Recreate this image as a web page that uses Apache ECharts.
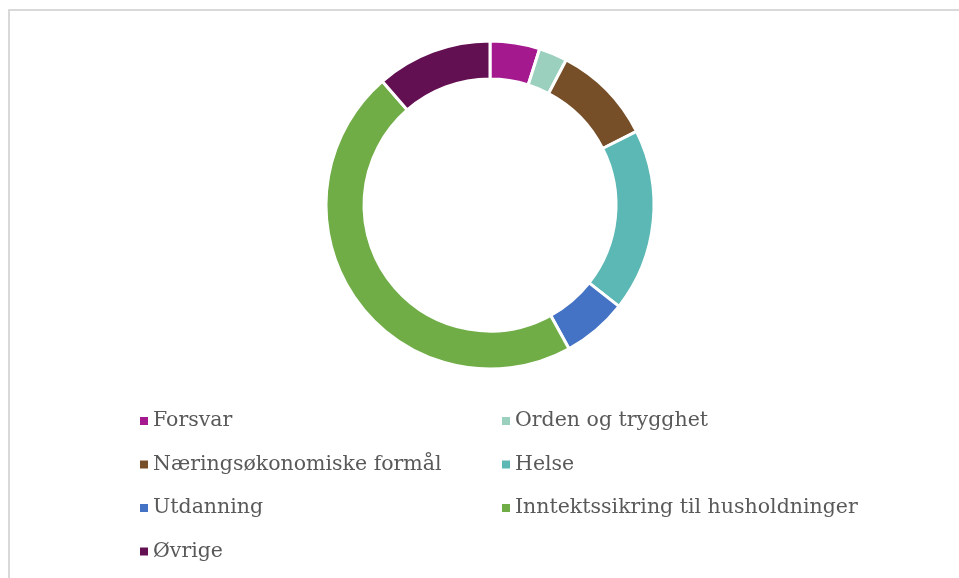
<!DOCTYPE html>
<html>
<head>
<meta charset="utf-8">
<script src="https://cdn.jsdelivr.net/npm/echarts@6/dist/echarts.min.js"></script>
<style>
  html, body { margin: 0; padding: 0; background: #fff; }
  #main { width: 959px; height: 578px; }
</style>
</head>
<body>
<div id="main"></div>
<script>
// kategorier og andeler (prosent)
var categories = ["Forsvar", "Orden og trygghet", "Næringsøkonomiske formål", "Helse", "Utdanning", "Inntektssikring til husholdninger", "Øvrige"];
var shares = [4.9, 2.8, 9.9, 18.0, 6.4, 46.6, 11.4];
var colors = ["#a5198f", "#9bd0be", "#764f28", "#5cb8b4", "#4472c4", "#70ad47", "#631052"];

// legend i to kolonner
var leftColumn = ["Forsvar", "Næringsøkonomiske formål", "Utdanning", "Øvrige"];
var rightColumn = ["Orden og trygghet", "Helse", "Inntektssikring til husholdninger"];

var chart = echarts.init(document.getElementById("main"));

var legendBase = {
  orient: "vertical",
  top: 409,
  padding: 0,
  itemWidth: 8,
  itemHeight: 8,
  itemGap: 19.5,
  icon: "rect",
  itemStyle: { borderWidth: 0 },
  textStyle: {
    fontFamily: "DejaVu Serif",
    fontSize: 20.5,
    lineHeight: 24,
    color: "#595959"
  }
};

chart.setOption({
  animation: false,
  color: colors,
  graphic: [{
    type: "rect",
    shape: { x: 9, y: 10, width: 1200, height: 1200 },
    style: { fill: null, stroke: "#d9d9d9", lineWidth: 2 },
    silent: true
  }],
  legend: [
    Object.assign({}, legendBase, { left: 140, data: leftColumn }),
    Object.assign({}, legendBase, { left: 502, data: rightColumn })
  ],
  series: [{
    type: "pie",
    center: [490, 205],
    radius: [126, 164],
    startAngle: 90,
    clockwise: true,
    label: { show: false },
    labelLine: { show: false },
    itemStyle: { borderColor: "#fff", borderWidth: 3 },
    emphasis: { disabled: true },
    data: categories.map(function (name, i) {
      return { name: name, value: shares[i] };
    })
  }]
});
</script>
</body>
</html>
